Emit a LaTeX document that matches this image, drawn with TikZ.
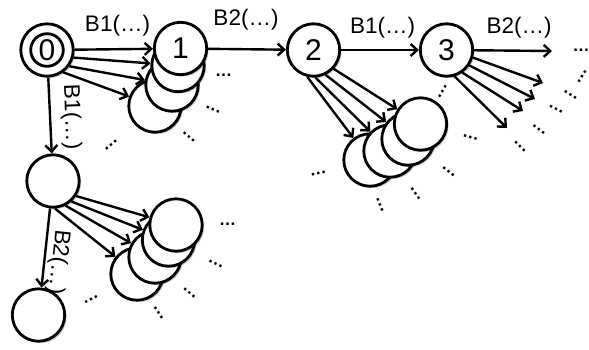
\documentclass[tikz,border=0pt]{standalone}
\usepackage{fontspec}
\setmainfont{Liberation Sans}
\usetikzlibrary{arrows.meta,shadows}
\begin{document}
\begin{tikzpicture}[x=1pt,y=-1pt,
  st/.style={circle,draw,line width=2.8pt,fill=white,minimum size=52.4pt,inner sep=0pt,
    font=\fontsize{30}{30}\selectfont,
    drop shadow={shadow xshift=1.8pt,shadow yshift=-1.8pt,opacity=0.25,fill=black}},
  inner/.style={circle,draw,line width=2.8pt,minimum size=32.6pt,inner sep=0pt,
    font=\fontsize{30}{30}\selectfont},
  arr/.style={line width=2.4pt,-{Straight Barb[length=6.5pt,width=12pt]}},
  lbl/.style={font=\fontsize{22.5}{22.5}\selectfont,inner sep=0pt},
  dts/.style={font=\bfseries\fontsize{17}{17}\selectfont,inner sep=0pt}]
\useasboundingbox (0,0) rectangle (589,349);

% node 0 and node 1 stack
\node[st] (n0) at (47,50) {};
\node[inner] (n0i) at (47,50) {0};
\node[st] (s14) at (155,106) {};
\node[st] (s13) at (172,85) {};
\node[st] (s12) at (178,65.5) {};
\node[st] (s11) at (180.5,48.5) {1};

% node 2 and stack
\node[st] (n2) at (313.5,50) {2};
\node[st] (s24) at (370,160) {};
\node[st] (s23) at (390,151) {};
\node[st] (s22) at (408,139) {};
\node[st] (s21) at (420.5,124) {};

% node 3
\node[st] (n3) at (446.5,50) {3};

% lower left
\node[st] (nL) at (53,181) {};
\node[st] (L4) at (137,274) {};
\node[st] (L3) at (155,257) {};
\node[st] (L2) at (168.5,240) {};
\node[st] (L1) at (176,225) {};
\node[st] (nB) at (38.5,315) {};

% free ends
\coordinate (e0) at (552,51);
\coordinate (e1) at (543,83);
\coordinate (e2) at (535,99);
\coordinate (e3) at (523,111);
\coordinate (e4) at (507,128);

% arrows
\draw[arr] (n0) -- (s11);
\draw[arr] (n0.-16) -- (s12);
\draw[arr] (n0.-36) -- (s13);
\draw[arr] (n0.-54) -- (s14);
\draw[arr] (s11) -- (n2);
\draw[arr] (n2) -- (n3);
\draw[arr] (n2.-43) -- (s21);
\draw[arr] (n2.-64) -- (s22);
\draw[arr] (n2.-86) -- (s23);
\draw[arr] (n2.-103) -- (s24);
\draw[arr] (n3) -- (e0);
\draw[arr] (n3.-16) -- (e1);
\draw[arr] (n3.-34) -- (e2);
\draw[arr] (n3.-55) -- (e3);
\draw[arr] (n3.-73) -- (e4);
\draw[arr] (n0) -- (nL);
\draw[arr] (nL.-33) -- (L1);
\draw[arr] (nL.-48) -- (L2);
\draw[arr] (nL.-63) -- (L3);
\draw[arr] (nL.-86) -- (L4);
\draw[arr] (nL) -- (nB);

% labels
\node[lbl] (t1) at (117.5,26) {B1(…)};
\node[lbl] (t2) at (246,20) {B2(…)};
\node[lbl] (t3) at (382.5,28) {B1(…)};
\node[lbl] (t4) at (519,28) {B2(…)};
\node[lbl,rotate=-88] (t5) at (71,117) {B1(…)};
\node[lbl,rotate=-96] (t6) at (58,262) {B2(…)};

% dots
\node[dts] (d1) at (223.5,75) {…};
\node[dts,rotate=-23] (d2) at (213,110) {…};
\node[dts,rotate=-40] (d3) at (189,137) {…};
\node[dts,rotate=40] (d4) at (111,145) {…};
\node[dts] (d5) at (581,50) {…};
\node[dts,rotate=58] (d6) at (582,76.5) {…};
\node[dts,rotate=-32] (d7) at (570.5,95) {…};
\node[dts,rotate=-27] (d8) at (556,109.5) {…};
\node[dts,rotate=-37] (d9) at (539,129.5) {…};
\node[dts,rotate=-45] (d10) at (520,147) {…};
\node[dts,rotate=60] (d11) at (442.5,92) {…};
\node[dts,rotate=-15] (d12) at (470.5,137.5) {…};
\node[dts,rotate=-38] (d13) at (448.5,172) {…};
\node[dts,rotate=-55] (d14) at (415.5,193.5) {…};
\node[dts,rotate=-68] (d15) at (380,204.5) {…};
\node[dts,rotate=12] (d16) at (318.5,173.5) {…};
\node[dts] (d17) at (227.5,224) {…};
\node[dts,rotate=-25] (d18) at (215.5,263.5) {…};
\node[dts,rotate=-40] (d19) at (189.5,292.5) {…};
\node[dts,rotate=-57] (d20) at (158.5,313) {…};
\node[dts,rotate=27] (d21) at (91,299.5) {…};
\end{tikzpicture}
\end{document}
